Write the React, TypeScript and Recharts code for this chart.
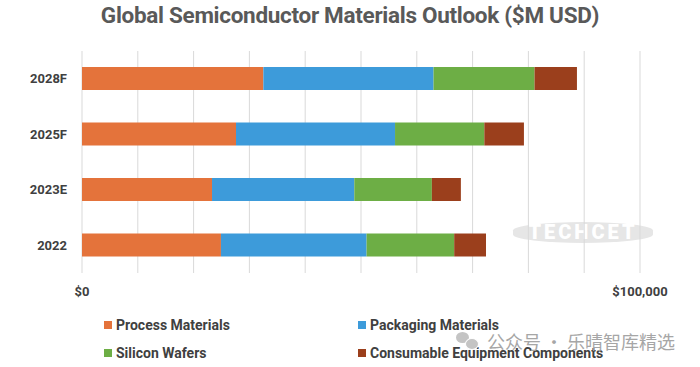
import React from 'react';
import { BarChart, Bar, XAxis, YAxis, CartesianGrid } from 'recharts';

const categories = ['2028F', '2025F', '2023E', '2022'];
const processMaterials = [32500, 27600, 23300, 24900];
const packagingMaterials = [30500, 28500, 25500, 26100];
const siliconWafers = [18100, 16000, 13900, 15700];
const consumableComponents = [7600, 7100, 5200, 5700];
const xTicks = [0, 10000, 20000, 30000, 40000, 50000, 60000, 70000, 80000, 90000, 100000];
const xTickLabels: Record<number, string> = { 0: '$0', 100000: '$100,000' };

const seriesNames = ['Process Materials', 'Packaging Materials', 'Silicon Wafers', 'Consumable Equipment Components'];
const seriesKeys = ['process', 'packaging', 'silicon', 'consumable'];
const seriesColors = ['#E4733B', '#3D9BDA', '#6DAE45', '#9B3F1C'];

const data = categories.map((c, i) => ({
  name: c,
  process: processMaterials[i],
  packaging: packagingMaterials[i],
  silicon: siliconWafers[i],
  consumable: consumableComponents[i],
}));

const FONT = "Roboto, 'Liberation Sans', sans-serif";

export default function App() {
  return (
    <div style={{ position: 'absolute', left: 0, top: 0, width: 700, height: 367, background: '#fff', overflow: 'hidden', fontFamily: FONT }}>
      <div style={{ position: 'absolute', left: 0, top: 2, width: 700, textAlign: 'center', fontSize: 22.5, fontWeight: 700, color: '#595959', letterSpacing: -0.3 }}>
        Global Semiconductor Materials Outlook ($M USD)
      </div>
      <div style={{ position: 'absolute', left: 513, top: 222, width: 140, height: 21, background: '#e6e6e6', borderRadius: '50%/40%', color: '#fff', fontWeight: 900, fontSize: 20, lineHeight: '21px', textAlign: 'center', letterSpacing: 3 }}>
        TECHCET
      </div>
      <BarChart
        width={700}
        height={367}
        data={data}
        layout="vertical"
        margin={{ top: 51, right: 60, left: 0, bottom: 64 }}
        style={{ position: 'absolute', left: 0, top: 0 }}
      >
        <CartesianGrid horizontal={false} stroke="#d9d9d9" />
        <XAxis
          type="number"
          domain={[0, 100000]}
          ticks={xTicks}
          interval={0}
          tickFormatter={(v: number) => xTickLabels[v] ?? ''}
          axisLine={false}
          tickLine={false}
          tickMargin={8}
          height={30}
          tick={{ fill: '#404040', fontSize: 13, fontWeight: 700, fontFamily: FONT }}
        />
        <YAxis
          type="category"
          dataKey="name"
          width={82}
          axisLine={false}
          tickLine={false}
          tickMargin={9}
          tick={{ fill: '#404040', fontSize: 13, fontWeight: 700, fontFamily: FONT }}
        />
        {seriesKeys.map((k, i) => (
          <Bar key={k} dataKey={k} name={seriesNames[i]} stackId="a" fill={seriesColors[i]} barSize={23} isAnimationActive={false} />
        ))}
      </BarChart>
      {seriesNames.map((n, i) => (
        <div key={n} style={{ position: 'absolute', left: i % 2 === 0 ? 104 : 358, top: i < 2 ? 317 : 345, display: 'flex', alignItems: 'center', fontSize: 14, fontWeight: 700, color: '#404040', whiteSpace: 'nowrap' }}>
          <span style={{ display: 'inline-block', width: 8, height: 8, background: seriesColors[i], marginRight: 4 }} />
          {n}
        </div>
      ))}
      <div style={{ position: 'absolute', left: 456, top: 332, width: 13, height: 11, borderRadius: '50%', background: '#c4c4c4' }} />
      <div style={{ position: 'absolute', left: 465, top: 338, width: 12, height: 10, borderRadius: '50%', background: '#c4c4c4', border: '1px solid #fff' }} />
      <div style={{ position: 'absolute', left: 487, top: 331, fontSize: 18, color: '#a6a6a6', fontFamily: "'Noto Sans CJK SC', sans-serif", whiteSpace: 'nowrap', lineHeight: '20px' }}>
        公众号 · 乐晴智库精选
      </div>
    </div>
  );
}
